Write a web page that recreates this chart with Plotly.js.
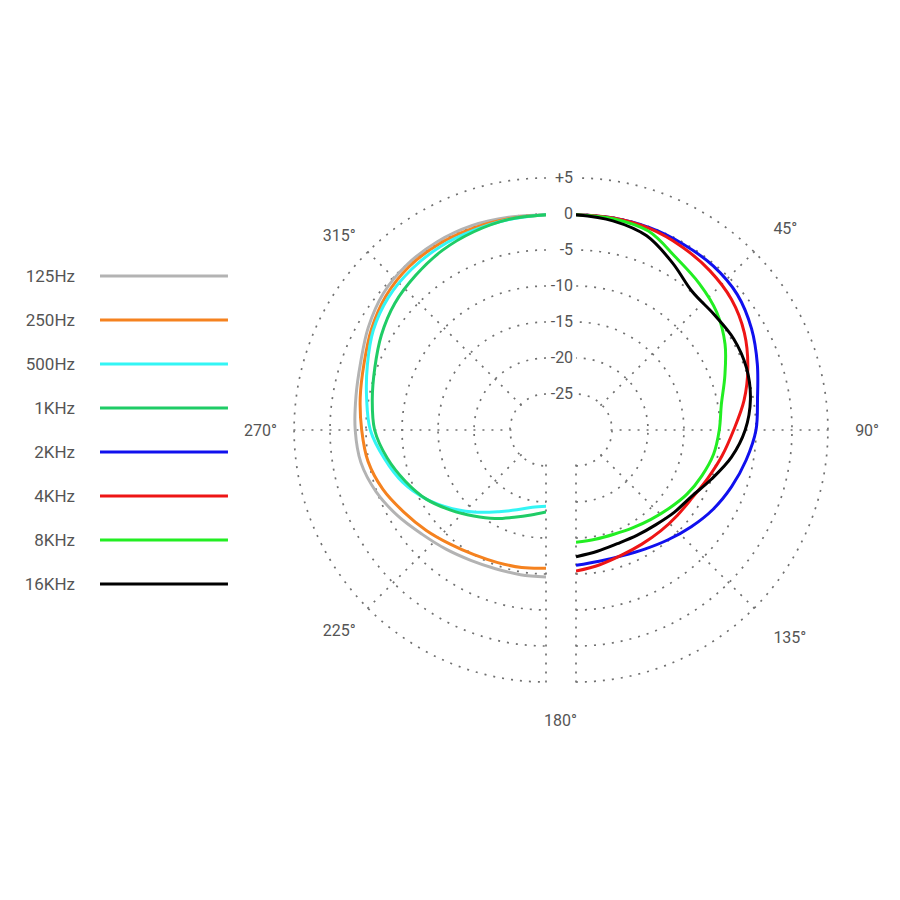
<!DOCTYPE html>
<html><head><meta charset="utf-8">
<script src="https://cdn.plot.ly/plotly-3.0.1.min.js"></script>
<style>html,body{margin:0;padding:0;background:#fff;} #chart{width:900px;height:900px;}</style>
</head><body><div id="chart"></div>
<script>
// ---- data ----
const seriesNames = ['125Hz','250Hz','500Hz','1KHz','2KHz','4KHz','8KHz','16KHz'];
const seriesColors = ['#b3b3b3','#f5821f','#33f5f5','#1fcc66','#1010ee','#ee1515','#22ee22','#000000'];

// left half (180..360 deg) : 125Hz, 250Hz, 500Hz, 1KHz
const anglesLeft = [180,190,200,210,220,230,240,250,260,270,280,290,300,310,320,330,340,350,360];
const db125Hz = [-9.6,-9.6,-9.5,-9.1,-8.4,-7.5,-6.2,-4.9,-3.9,-3.5,-3.2,-2.6,-1.5,-0.5,0.0,0.2,0.2,0.0,-0.1];
const db250Hz = [-10.8,-10.6,-10.4,-10.0,-9.3,-8.3,-7.2,-5.9,-4.9,-4.4,-3.8,-3.1,-2.0,-1.0,-0.4,-0.2,-0.2,-0.2,-0.1];
const db500Hz = [-19.4,-19.1,-18.2,-16.9,-15.1,-13.0,-10.8,-8.8,-7.2,-5.6,-4.7,-3.6,-2.3,-1.4,-0.9,-0.6,-0.5,-0.3,-0.1];
const db1KHz  = [-18.6,-18.0,-17.1,-15.8,-14.4,-12.7,-10.8,-9.2,-7.6,-6.2,-5.5,-4.7,-3.6,-2.6,-1.9,-1.2,-0.7,-0.3,-0.1];

// right half (0..180 deg) : 2KHz, 4KHz, 8KHz, 16KHz
const anglesRight = [0,10,20,30,40,50,60,70,80,90,100,110,120,130,140,150,160,170,180];
const db2KHz  = [-0.1,-0.1,-0.1,-0.2,-0.3,-0.75,-1.85,-3.2,-4.4,-5.0,-6.0,-7.0,-8.0,-9.1,-10.1,-10.9,-11.4,-11.5,-11.2];
const db4KHz  = [-0.1,-0.1,-0.2,-0.6,-1.1,-1.8,-3.0,-4.6,-6.3,-8.1,-9.4,-10.5,-11.3,-11.6,-11.7,-11.7,-11.5,-11.0,-10.4];
const db8KHz  = [-0.1,-0.2,-0.6,-2.3,-3.4,-4.5,-6.1,-8.0,-9.5,-10.1,-10.6,-11.4,-12.2,-13.1,-13.8,-14.3,-14.6,-14.6,-14.4];
const db16KHz = [-0.1,-0.5,-1.3,-3.2,-4.9,-5.0,-4.7,-4.8,-5.4,-6.5,-8.1,-10.0,-11.5,-12.2,-12.8,-13.1,-13.2,-12.9,-12.4];

const radialTicks = [-25,-20,-15,-10,-5,0,5];
const radialTickText = ['-25','-20','-15','-10','-5','0','+5'];
const rightAngleTicks = [45,90,135,180];
const rightAngleText = ['45°','90°','135°',''];
const leftAngleTicks = [180,225,270,315];
const leftAngleText = ['','225°','270°','315°'];
const bottomLabel = '180°';

// ---- build ----
const leftSeries = [db125Hz, db250Hz, db500Hz, db1KHz];
const rightSeries = [db2KHz, db4KHz, db8KHz, db16KHz];
const traces = [];
leftSeries.forEach((r, i) => {
  traces.push({type:'scatterpolar', subplot:'polar2', mode:'lines', r:r, theta:anglesLeft,
    line:{color:seriesColors[i], width:3, shape:'spline'}, showlegend:false, hoverinfo:'skip', name:seriesNames[i]});
});
rightSeries.forEach((r, i) => {
  traces.push({type:'scatterpolar', subplot:'polar', mode:'lines', r:r, theta:anglesRight,
    line:{color:seriesColors[i+4], width:3, shape:'spline'}, showlegend:false, hoverinfo:'skip', name:seriesNames[i+4]});
});
// legend swatches on a helper axis
seriesNames.forEach((n, i) => {
  traces.push({type:'scatter', mode:'lines', x:[0,1], y:[n,n], xaxis:'x', yaxis:'y',
    line:{color:seriesColors[i], width:3}, showlegend:false, hoverinfo:'skip'});
});

const txtFont = {family:'Roboto, sans-serif', size:16, color:'#555'};
const gridStyle = {gridcolor:'#707070', gridwidth:1.7, griddash:'2px,7px'};
function angular(vals, text, len) {
  return Object.assign({rotation:90, direction:'clockwise', tickmode:'array', tickvals:vals, ticktext:text,
    showline:false, showgrid:true, ticks:'outside', ticklen:len, tickcolor:'rgba(0,0,0,0)', tickfont:txtFont}, gridStyle);
}
function radial(showLabels) {
  return Object.assign({range:[-25.2,5.2], tickmode:'array', tickvals:radialTicks, ticktext:radialTickText,
    showline:false, ticks:'', showticklabels:showLabels, angle:90, side:'counterclockwise', tickangle:90,
    tickfont:txtFont}, gridStyle);
}

const holeFrac = 0.136364;
const layout = {
  width:900, height:900, margin:{l:0,r:0,t:0,b:0},
  paper_bgcolor:'#fff', plot_bgcolor:'#fff', showlegend:false,
  polar:{domain:{x:[0.64,0.9216], y:[0.240622,0.803822]}, sector:[-90,90], hole:holeFrac, bgcolor:'rgba(0,0,0,0)',
    angularaxis:angular(rightAngleTicks, rightAngleText, 22), radialaxis:radial(true)},
  polar2:{domain:{x:[0.32507,0.60667], y:[0.240622,0.803822]}, sector:[-270,-90], hole:holeFrac, bgcolor:'rgba(0,0,0,0)',
    angularaxis:angular(leftAngleTicks, leftAngleText, 12), radialaxis:radial(false)},
  xaxis:{domain:[0.1111,0.2533], range:[0,1], visible:false, fixedrange:true},
  yaxis:{domain:[0.32667,0.71778], type:'category', categoryarray:seriesNames, categoryorder:'array',
    range:[7.5,-0.5], autorange:false, showgrid:false, zeroline:false, showline:false, ticks:'', ticklabelstandoff:24,
    tickfont:Object.assign({}, txtFont, {size:17}), fixedrange:true},
  annotations:[{xref:'paper', yref:'paper', x:0.6233, y:0.2, text:bottomLabel, showarrow:false,
    xanchor:'center', yanchor:'middle', font:txtFont}]
};
Plotly.newPlot('chart', traces, layout, {staticPlot:true});
</script>
</body></html>
